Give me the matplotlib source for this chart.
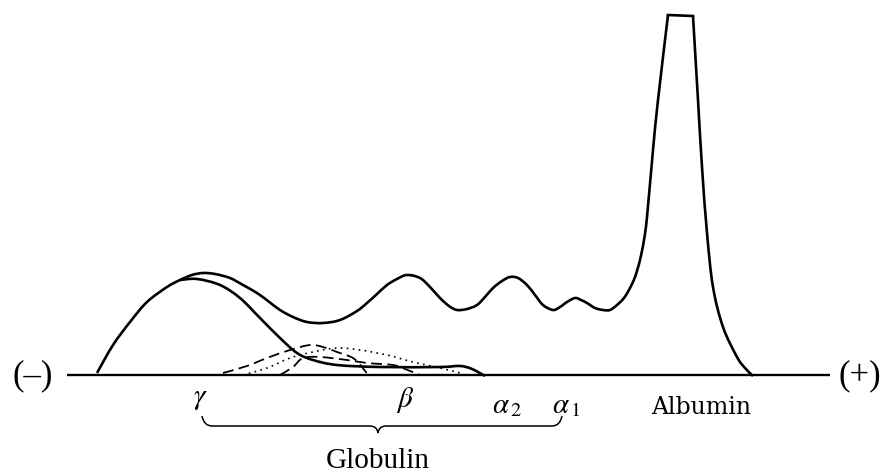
import matplotlib
matplotlib.use("Agg")
import matplotlib.pyplot as plt
from matplotlib.path import Path
from matplotlib.patches import PathPatch

# ---- data (drawing units: x = mobility, y = depth from top) ----
total_x = [97, 113, 130, 147, 167, 180, 192, 203, 215, 230, 243, 257, 268,
           280, 293, 307, 323, 340, 357, 367, 377, 387, 397, 407, 420, 430, 440,
           449, 457, 467, 477, 485, 493, 502, 510, 518, 527, 535, 543, 553, 560, 567, 575, 581, 587,
           595, 603, 610, 617, 624, 630, 635, 640, 644, 647, 653, 658, 668]
total_y = [373, 345, 322, 302, 287, 280, 275, 273, 274, 278, 285, 293, 301,
           310, 317, 322, 323, 320, 311, 303, 294, 285, 279, 275, 278, 287, 298,
           306, 310, 309, 305, 297, 288, 281, 277, 278, 285, 295, 305, 310, 307, 302, 298, 300, 303,
           308, 310, 310, 305, 298, 288, 277, 260, 240, 217, 150, 100, 15]
top_x = [668, 693]
top_y = [15, 16]
fall_x = [693, 698, 702, 707, 713, 723, 737, 745, 753]
fall_y = [16, 100, 167, 233, 287, 327, 357, 368, 376]

gamma_x = [180, 197, 220, 240, 260, 280, 297, 313, 337, 380, 440, 460, 472, 485]
gamma_y = [280, 279, 285, 298, 318, 338, 353, 360, 365, 367, 367, 366, 369, 376]

dash_a_x = [223, 247, 267, 290, 310, 323, 337, 353, 362, 368]
dash_a_y = [373, 366, 358, 350, 345, 347, 352, 358, 367, 375]

dash_b_x = [280, 293, 303, 320, 347, 367, 393, 405, 420]
dash_b_y = [375, 367, 358, 357, 360, 363, 365, 369, 375]

dot_x = [243, 267, 290, 313, 337, 360, 387, 413, 440, 460]
dot_y = [375, 368, 358, 352, 348, 350, 355, 362, 368, 373]

baseline_x = [67, 830]
baseline_y = [375, 375]

fraction_labels = ["$\\gamma$", "$\\beta$", "$\\alpha_{\\,2}$", "$\\alpha_{\\,1}$"]
fraction_x = [200, 405, 507, 566]
fraction_y = [398, 400, 405, 405]
albumin_label = "Albumin"
globulin_label = "Globulin"
brace_span = [202, 562]
brace_mid = 378

plt.rcParams["mathtext.fontset"] = "stix"


def smooth_path(xs, ys):
    """Catmull-Rom curve through the given points, drawn as cubic Bezier segments."""
    pts = list(zip(xs, ys))
    verts = [pts[0]]
    codes = [Path.MOVETO]
    n = len(pts)
    for i in range(n - 1):
        p0 = pts[i - 1] if i > 0 else pts[i]
        p1 = pts[i]
        p2 = pts[i + 1]
        p3 = pts[i + 2] if i + 2 < n else pts[i + 1]
        c1 = (p1[0] + (p2[0] - p0[0]) / 6, p1[1] + (p2[1] - p0[1]) / 6)
        c2 = (p2[0] - (p3[0] - p1[0]) / 6, p2[1] - (p3[1] - p1[1]) / 6)
        verts += [c1, c2, p2]
        codes += [Path.CURVE4] * 3
    return Path(verts, codes)


# ---- figure ----
fig = plt.figure(figsize=(8.9, 4.74), dpi=100)
ax = fig.add_axes([0, 0, 1, 1])
ax.set_xlim(0, 890)
ax.set_ylim(474, 0)
ax.axis("off")

lw = 1.9
ax.plot(baseline_x, baseline_y, color="black", lw=1.7, solid_capstyle="butt")
ax.add_patch(PathPatch(smooth_path(total_x, total_y), fill=False, lw=lw, color="black",
                       joinstyle="round"))
ax.plot(top_x, top_y, color="black", lw=lw, solid_joinstyle="round")
ax.add_patch(PathPatch(smooth_path(fall_x, fall_y), fill=False, lw=lw, color="black",
                       joinstyle="round"))
ax.add_patch(PathPatch(smooth_path(gamma_x, gamma_y), fill=False, lw=lw, color="black"))
ax.add_patch(PathPatch(smooth_path(dash_a_x, dash_a_y), fill=False, lw=1.3, color="black",
                       linestyle=(0, (6, 3))))
ax.add_patch(PathPatch(smooth_path(dash_b_x, dash_b_y), fill=False, lw=1.3, color="black",
                       linestyle=(0, (6, 3))))
ax.add_patch(PathPatch(smooth_path(dot_x, dot_y), fill=False, lw=1.2, color="black",
                       linestyle=(0, (1, 2.6))))

serif = ["Liberation Serif", "DejaVu Serif"]
ax.text(33, 376, "(–)", ha="center", va="center", fontsize=25, family=serif)
ax.text(860, 376, "(+)", ha="center", va="center", fontsize=25, family=serif)

for lab, fx, fy in zip(fraction_labels, fraction_x, fraction_y):
    ax.text(fx, fy, lab, ha="center", va="center", fontsize=21)
ax.text(701, 407, albumin_label, ha="center", va="center", fontsize=17, family="DejaVu Serif")
ax.text(brace_mid, 461, globulin_label, ha="center", va="center", fontsize=21, family=serif)

# curly brace under the globulin fractions
x0, x1 = brace_span
yt, yl, yd = 416, 426, 433
verts = [(x0, yt), (x0 + 2, yl), (x0 + 10, yl),
         (brace_mid - 8, yl), (brace_mid - 1, yl), (brace_mid, yd),
         (brace_mid + 1, yl), (brace_mid + 8, yl),
         (x1 - 10, yl), (x1 - 2, yl), (x1, yt)]
codes = [Path.MOVETO, Path.CURVE3, Path.CURVE3,
         Path.LINETO, Path.CURVE3, Path.CURVE3,
         Path.CURVE3, Path.CURVE3,
         Path.LINETO, Path.CURVE3, Path.CURVE3]
ax.add_patch(PathPatch(Path(verts, codes), fill=False, lw=1.1, color="black"))

fig.savefig("out.png", dpi=100, facecolor="white")
